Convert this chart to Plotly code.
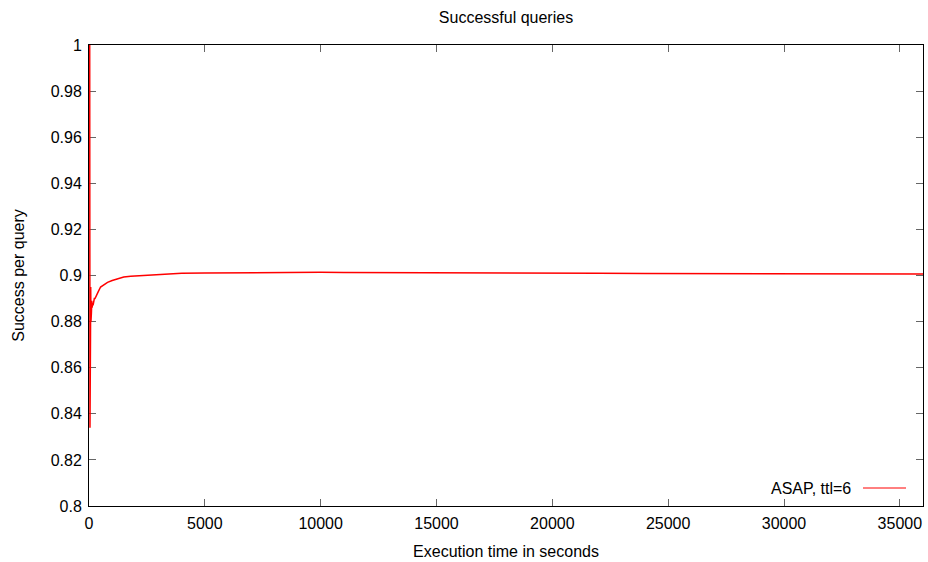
import plotly.graph_objects as go

# Execution time (s) and success ratio
time_s = [30, 42, 54, 64, 74, 84, 95, 105, 120, 135, 155, 175, 200, 230, 260,
          300, 350, 400, 500, 600, 700, 800, 1000, 1200, 1500, 1800, 2200, 2600,
          3000, 3500, 4000, 5000, 6000, 7000, 8000, 9000, 10000, 11000, 12000,
          14000, 16000, 18000, 20000, 22000, 24000, 26000, 28000, 30000, 32000,
          34000, 36000]
success = [1.0, 0.834, 0.941, 0.872, 0.895, 0.880, 0.892, 0.884, 0.889, 0.886,
           0.888, 0.887, 0.889, 0.890, 0.890, 0.891, 0.892, 0.893, 0.8950,
           0.8958, 0.8964, 0.8970, 0.8978, 0.8985, 0.8993, 0.8997, 0.8999,
           0.9002, 0.9005, 0.9008, 0.9010, 0.9011, 0.9012, 0.9013, 0.9014, 0.9014,
           0.9014, 0.9013, 0.9013, 0.9012, 0.9012, 0.9011, 0.9010, 0.9010, 0.9009,
           0.9009, 0.9008, 0.9008, 0.9007, 0.9007, 0.9006]

series_name = "ASAP, ttl=6"
x_ticks = [0, 5000, 10000, 15000, 20000, 25000, 30000, 35000]
y_ticks = [0.8, 0.82, 0.84, 0.86, 0.88, 0.9, 0.92, 0.94, 0.96, 0.98, 1.0]

font = dict(family="Liberation Sans, Arial, sans-serif", size=16, color="black")

fig = go.Figure()
fig.add_trace(go.Scatter(x=time_s, y=success, mode="lines", name=series_name,
                         line=dict(color="#ff0000", width=1.5), showlegend=False))

axis_common = dict(showline=True, linecolor="black", linewidth=1, mirror="ticks",
                   ticks="inside", ticklen=7, tickcolor="#666666", tickwidth=1,
                   showgrid=False, zeroline=False, tickfont=font,
                   layer="below traces", automargin=False, ticklabelstandoff=3)

fig.update_xaxes(range=[0, 36000], tickvals=x_ticks, tickformat="d",
                 title=dict(text="Execution time in seconds", font=font, standoff=14),
                 **axis_common)
fig.update_yaxes(range=[0.8, 1.0], tickvals=y_ticks,
                 ticktext=[("%g" % v) for v in y_ticks],
                 title=dict(text="Success per query", font=font, standoff=22),
                 **axis_common)

fig.update_layout(
    width=928, height=562,
    margin=dict(l=89, r=5, t=45, b=56),
    paper_bgcolor="white", plot_bgcolor="white",
    font=font,
    title=dict(text="Successful queries", x=0.5, xref="paper", xanchor="center",
               y=1 - 17 / 562, yanchor="middle", font=font),
)

# legend (gnuplot style: text left of sample)
fig.add_annotation(text=series_name, xref="paper", yref="paper",
                   x=(853 - 89) / 834, y=(506 - 488) / 461, xanchor="right",
                   yanchor="middle", showarrow=False, font=font)
fig.add_shape(type="line", xref="paper", yref="paper",
              x0=(863 - 89) / 834, x1=(906 - 89) / 834,
              y0=(506 - 488) / 461, y1=(506 - 488) / 461,
              line=dict(color="#ff0000", width=1))

fig.write_html("out.html")
